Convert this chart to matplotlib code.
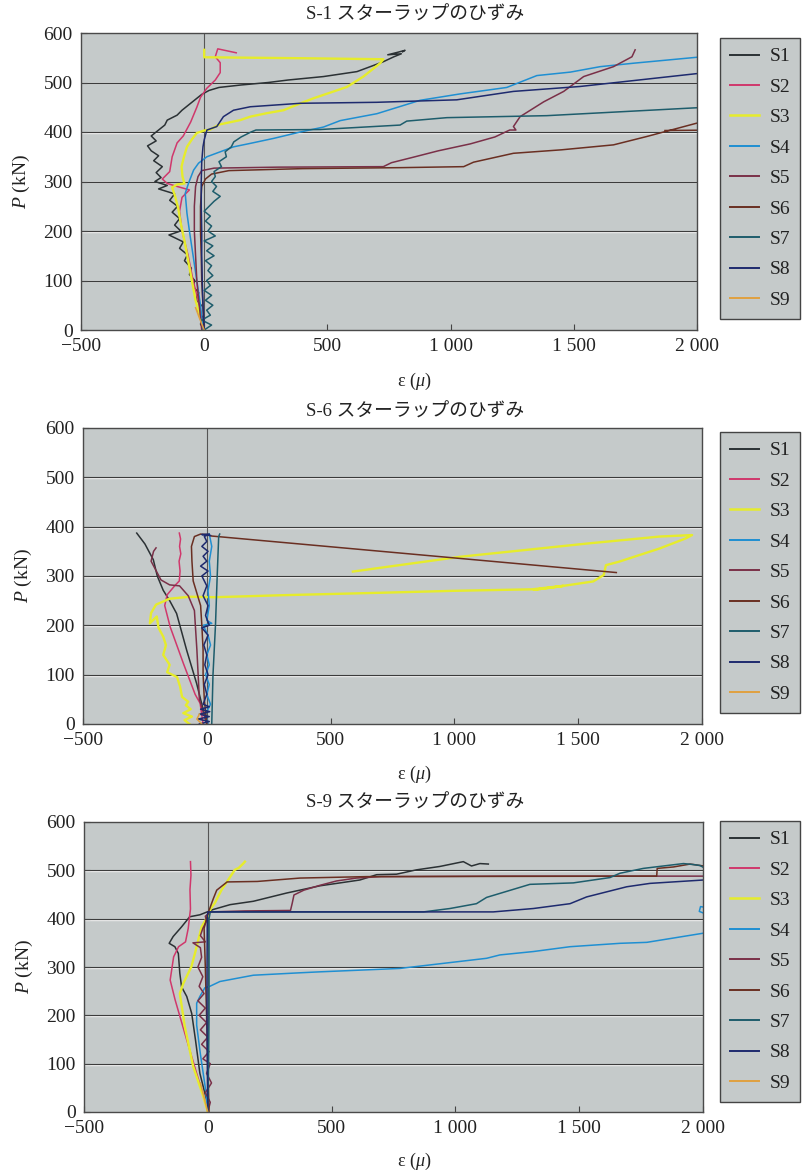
import matplotlib
matplotlib.use('Agg')
import matplotlib.pyplot as plt
from matplotlib.lines import Line2D

plt.rcParams['font.family'] = ['Liberation Serif', 'Noto Sans CJK JP', 'DejaVu Sans']
plt.rcParams['mathtext.fontset'] = 'custom'
plt.rcParams['mathtext.rm'] = 'Liberation Serif'
plt.rcParams['mathtext.it'] = 'Liberation Serif:italic'
plt.rcParams['axes.unicode_minus'] = True

# ---------------- data ----------------
series_names = ['S1', 'S2', 'S3', 'S4', 'S5', 'S6', 'S7', 'S8', 'S9']
series_colors = ['#2b3134', '#d0386c', '#e6ec2c', '#1f8fd2', '#7a3048',
                 '#6a2f22', '#1e5d6c', '#1e2a6e', '#e0a040']
chart_titles = ['S-1 スターラップのひずみ', 'S-6 スターラップのひずみ', 'S-9 スターラップのひずみ']
xtick_vals = [-500, 0, 500, 1000, 1500, 2000]
xtick_labels = ['\u2212500', '0', '500', '1 000', '1 500', '2 000']
ytick_vals = [0, 100, 200, 300, 400, 500, 600]

# chart 1 (S-1): (strain, load) pairs
c1_S1 = [(0,0),(-15,12),(-5,25),(-25,38),(-12,50),(-35,62),(-22,75),(-45,88),(-38,100),(-60,112),
         (-52,125),(-80,140),(-68,152),(-100,165),(-85,178),(-143,192),(-95,200),(-120,212),(-100,225),
         (-130,238),(-108,250),(-140,262),(-120,275),(-185,285),(-150,292),(-200,300),(-175,308),
         (-195,318),(-170,330),(-205,342),(-185,352),(-215,362),(-230,372),(-195,382),(-215,392),
         (-190,402),(-160,414),(-150,424),(-110,434),(-90,444),(-60,456),(-35,466),(-10,476),(20,484),
         (60,490),(150,495),(260,500),(340,505),(484,512),(620,522),(690,535),(727,542),(770,552),
         (800,558),(745,556),(785,561),(815,565),(805,562)]
c1_S2 = [(0,0),(-20,50),(-45,100),(-65,150),(-90,200),(-100,240),(-90,268),(-60,283),(-110,290),
         (-150,296),(-170,305),(-140,320),(-130,350),(-110,378),(-85,392),(-55,420),(-30,450),
         (-15,470),(10,488),(45,505),(65,520),(65,540),(45,552),(55,568),(130,560)]
c1_S3 = [(0,0),(-15,25),(-35,60),(-50,100),(-65,140),(-80,180),(-95,215),(-105,245),(-118,270),
         (-130,288),(-110,294),(-80,296),(-88,310),(-92,330),(-82,350),(-70,370),(-50,385),(-30,398),
         (0,403),(25,405),(60,415),(146,424),(187,431),(254,438),(322,444),(376,455),(443,468),
         (579,491),(646,512),(714,539),(727,547),(400,549),(0,551),(0,566)]
c1_S4 = [(-5,0),(-15,50),(-30,100),(-45,150),(-60,200),(-70,236),(-77,276),(-64,296),(-43,323),
         (-23,337),(11,350),(65,360),(119,370),(187,377),(281,387),(390,400),(484,410),(552,423),
         (701,437),(876,464),(1039,477),(1228,490),(1350,514),(1486,521),(1607,532),(1743,539),(2000,551)]
c1_S5 = [(-10,0),(-20,50),(-30,100),(-35,150),(-40,200),(-40,250),(-35,290),(-25,310),(-10,322),
         (40,327),(300,329),(727,330),(760,338),(848,349),(950,362),(1080,376),(1180,390),(1240,404),
         (1265,404),(1255,411),(1282,431),(1378,461),(1459,482),(1540,512),(1661,532),(1736,552),(1749,566)]
c1_S6 = [(0,0),(-5,50),(-10,100),(-12,150),(-15,200),(-15,250),(-10,290),(5,305),(30,315),(100,322),
         (400,326),(800,328),(1053,330),(1093,339),(1255,357),(1450,364),(1661,374),(1797,391),
         (2000,418),(2080,428),(2080,404),(1870,403)]
c1_S7 = [(0,0),(30,10),(-10,20),(25,30),(10,40),(35,50),(5,60),(30,70),(0,80),(25,90),(10,100),
         (35,110),(15,120),(30,130),(5,140),(40,150),(10,160),(35,170),(0,180),(45,190),(15,200),
         (30,210),(5,220),(25,230),(0,240),(20,250),(40,260),(65,270),(35,280),(50,290),(30,300),
         (45,310),(40,320),(70,330),(60,340),(90,350),(85,360),(110,370),(120,380),(150,390),
         (190,400),(210,404),(470,405),(795,414),(822,422),(985,429),(1390,433),(2000,449)]
c1_S8 = [(0,0),(-5,50),(-8,100),(-10,150),(-10,200),(-12,250),(-12,300),(-10,340),(-5,370),(0,384),
         (11,404),(51,411),(78,431),(119,444),(187,451),(390,458),(700,460),(1025,465),(1255,482),
         (1526,492),(2000,518)]
c1_S9 = [(0,0),(-20,25),(-35,45)]

# chart 2 (S-6)
c2_S1 = [(0,0),(-21,42),(-41,82),(-81,149),(-122,224),(-150,250),(-176,271),(-200,300),(-216,333),
         (-250,365),(-283,387)]
c2_S2 = [(-15,0),(-27,42),(-47,60),(-94,122),(-148,197),(-170,240),(-160,262),(-130,280),(-111,290),
         (-108,310),(-112,330),(-105,345),(-110,360),(-106,375),(-111,387)]
c2_S3 = [(-70,0),(-90,8),(-60,15),(-95,22),(-65,30),(-85,38),(-75,45),(-100,55),(-108,76),(-120,95),
         (-160,105),(-150,120),(-176,140),(-165,160),(-176,177),(-195,195),(-202,218),(-230,204),
         (-225,225),(-205,242),(-150,254),(-68,258),(32,257),(300,261),(700,266),(1000,270),(1313,273),
         (1440,280),(1320,272),(1400,277),(1561,289),(1603,302),(1612,322),(1665,329),(1830,356),
         (1933,376),(1960,383),(1830,380),(1540,366),(1024,339),(590,309)]
c2_S4 = [(5,0),(-5,20),(15,40),(0,60),(10,80),(-5,100),(10,120),(0,140),(15,160),(5,180),(-15,200),
         (20,204),(0,210),(10,240),(5,270),(15,300),(10,330),(20,360),(10,385)]
c2_S5 = [(0,0),(-30,50),(-40,150),(-50,230),(-75,260),(-110,280),(-150,282),(-185,292),(-225,330),
         (-215,350),(-205,357)]
c2_S6 = [(0,0),(-10,50),(-15,100),(-15,150),(-20,200),(-25,240),(-40,265),(-55,290),(-60,330),
         (-62,360),(-50,380),(-25,385),(0,384),(20,381),(1654,307)]
c2_S7 = [(20,0),(25,100),(35,200),(42,300),(48,380),(52,385)]
c2_S8 = [(-30,0),(10,5),(-35,10),(10,15),(-30,20),(12,25),(-25,30),(10,35),(-15,40),(0,60),(-10,80),
         (5,100),(-8,120),(0,140),(-12,160),(5,180),(-20,195),(10,200),(-5,220),(5,240),(-15,260),
         (0,280),(-20,300),(5,310),(-25,320),(0,330),(-15,340),(5,350),(-20,360),(0,370),(-10,380),
         (10,385),(-20,384),(15,382)]
c2_S9 = [(-20,0),(-40,10),(-30,20)]

# chart 3 (S-9)
c3_S1 = [(0,0),(-5,25),(-32,80),(-50,150),(-65,204),(-85,239),(-106,259),(-113,287),(-119,328),
         (-133,342),(-156,349),(-140,363),(-106,383),(-73,404),(-32,408),(22,419),(90,429),(184,436),
         (318,453),(453,468),(534,474),(614,480),(682,491),(762,492),(843,501),(937,508),(1032,518),
         (1065,509),(1099,514),(1133,513)]
c3_S2 = [(0,0),(-12,25),(-45,80),(-85,149),(-132,232),(-152,273),(-138,321),(-118,342),(-90,352),
         (-79,380),(-70,420),(-72,460),(-68,490),(-70,518)]
c3_S3 = [(0,0),(-18,32),(-59,94),(-93,177),(-113,245),(-99,266),(-66,301),(-52,328),(-25,383),(0,405),
         (12,421),(28,432),(55,459),(82,480),(109,501),(125,505),(143,514),(150,518)]
c3_S4 = [(0,0),(-10,50),(-30,120),(-45,180),(-45,225),(-32,239),(-12,257),(8,260),(49,270),(184,283),
         (372,288),(453,290),(776,297),(1126,318),(1180,325),(1315,332),(1463,342),(1665,349),
         (1773,351),(2002,370),(2050,380),(2050,420),(1990,425),(1985,415),(2010,410)]
c3_S5 = [(0,0),(10,20),(-10,40),(15,60),(-5,80),(10,100),(-20,110),(5,125),(-25,140),(0,155),(-30,170),
         (-5,185),(-35,200),(-10,215),(-40,230),(-15,245),(-35,260),(-20,280),(-40,300),(-25,320),
         (-30,340),(-60,350),(-10,352),(-30,365),(-20,380),(-5,395),(-10,405),(11,414),(150,416),
         (334,417),(341,432),(348,449),(388,459),(453,469),(520,478),(600,484),(700,487),(1200,488),
         (2000,488)]
c3_S6 = [(5,0),(0,100),(-5,200),(-10,300),(-15,380),(-5,400),(0,410),(22,441),(36,459),(78,476),
         (200,477),(372,484),(642,487),(1813,488),(1815,504),(1881,507),(1948,513),(2002,509)]
c3_S7 = [(0,0),(3,100),(5,200),(5,300),(5,400),(10,414),(400,414),(871,414),(978,421),(1085,431),
         (1126,444),(1301,471),(1476,474),(1624,485),(1665,494),(1759,504),(1921,514),(1960,512),
         (1988,510),(2002,506)]
c3_S8 = [(0,0),(-2,100),(-3,200),(-3,300),(-2,400),(0,414),(500,414),(1153,414),(1315,421),(1463,431),
         (1530,445),(1692,466),(1786,473),(2002,480)]
c3_S9 = [(0,0),(-15,30),(-30,60)]

chart_data = [
    [c1_S1, c1_S2, c1_S3, c1_S4, c1_S5, c1_S6, c1_S7, c1_S8, c1_S9],
    [c2_S1, c2_S2, c2_S3, c2_S4, c2_S5, c2_S6, c2_S7, c2_S8, c2_S9],
    [c3_S1, c3_S2, c3_S3, c3_S4, c3_S5, c3_S6, c3_S7, c3_S8, c3_S9],
]

# ---------------- layout ----------------
W, H = 802, 1172
fig = plt.figure(figsize=(W / 100, H / 100), dpi=100)
fig.patch.set_facecolor('white')

axes_px = [(81, 33, 697, 330), (83, 428, 702, 724), (84, 822, 703, 1112)]  # left, top, right, bottom
title_y = [15, 412, 803]
xlabel_y = [381, 774, 1161]
legend_top = [38, 432, 821]

face = '#c5caca'
draw_order = [8, 6, 5, 4, 3, 1, 0, 7, 2]

for k in range(3):
    l, t, r, b = axes_px[k]
    ax = fig.add_axes([l / W, 1 - b / H, (r - l) / W, (b - t) / H])
    ax.set_facecolor(face)
    ax.set_xlim(-500, 2000)
    ax.set_ylim(0, 600)
    for yv in ytick_vals[1:-1]:
        ax.axhline(yv - 1.8, color='#eeeeee', lw=1.0, zorder=1)
        ax.axhline(yv, color='#3c3c3c', lw=0.8, zorder=1.1)
    ax.axvline(0, color='#555555', lw=0.8, zorder=1.1)
    for i in draw_order:
        pts = chart_data[k][i]
        xs = [p[0] for p in pts]
        ps = [p[1] for p in pts]
        lw = 1.7 if i == 2 else 1.1
        ax.plot(xs, ps, color=series_colors[i], lw=lw, zorder=2 + 0.01 * i, solid_joinstyle='round')
    ax.set_xticks(xtick_vals)
    ax.set_xticklabels(xtick_labels)
    ax.set_yticks(ytick_vals)
    ax.tick_params(axis='both', direction='in', length=4, width=0.8, color='#444444',
                   labelsize=14, labelcolor='#222222')
    ax.tick_params(axis='x', pad=6)
    ax.tick_params(axis='y', pad=6)
    for sp in ax.spines.values():
        sp.set_color('#4a4a4a')
        sp.set_linewidth(1.0)
    ax.set_ylabel('$P$ (kN)', fontsize=14, color='#222222', labelpad=8)

    fig.text(415 / W, 1 - title_y[k] / H, chart_titles[k], ha='center', va='center',
             fontsize=13.5, color='#222222',
             family=['Liberation Serif', 'Noto Sans CJK JP'])
    fig.text(414 / W, 1 - xlabel_y[k] / H, r'ε $(\mu)$', ha='center', va='center',
             fontsize=13, color='#222222')

    handles = [Line2D([0], [0], color=c, lw=1.4 if j != 2 else 1.8) for j, c in enumerate(series_colors)]
    leg = fig.legend(handles, series_names, loc='upper left',
                     bbox_to_anchor=(720 / W, 1 - legend_top[k] / H),
                     bbox_transform=fig.transFigure, fontsize=14, frameon=True,
                     fancybox=False, framealpha=1.0, facecolor=face, edgecolor='#444444',
                     handlelength=1.5, handletextpad=0.55, labelspacing=0.66, borderpad=0.5,
                     borderaxespad=0)
    leg.get_frame().set_linewidth(1.0)
    for txt in leg.get_texts():
        txt.set_color('#222222')

fig.savefig('out.png', dpi=100, facecolor='white')
